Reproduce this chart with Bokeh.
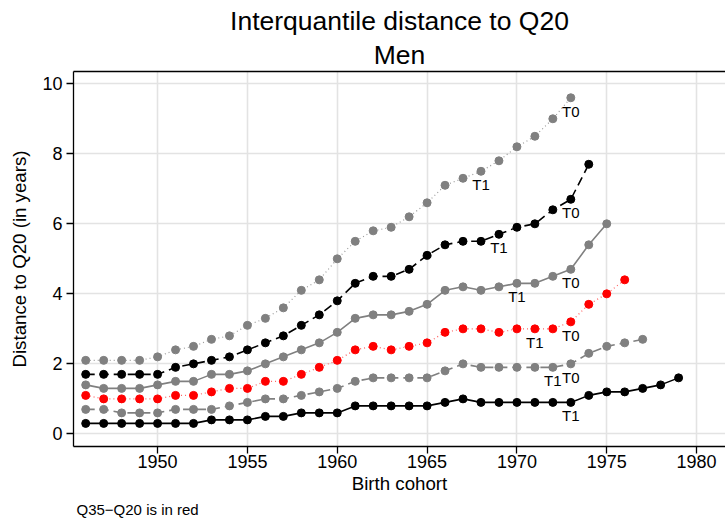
from bokeh.plotting import figure
from bokeh.models import Range1d, LinearAxis, FixedTicker, Title, ColumnDataSource
from bokeh.embed import file_html
from bokeh.resources import INLINE
from bokeh.core.properties import value

# ---------------- data ----------------
years_a = list(range(1946, 1974))
vals_a = [2.1, 2.1, 2.1, 2.1, 2.2, 2.4, 2.5, 2.7, 2.8, 3.1, 3.3, 3.6, 4.1, 4.4,
          5.0, 5.5, 5.8, 5.9, 6.2, 6.6, 7.1, 7.3, 7.5, 7.8, 8.2, 8.5, 9.0, 9.6]

years_b = list(range(1946, 1975))
vals_b = [1.7, 1.7, 1.7, 1.7, 1.7, 1.9, 2.0, 2.1, 2.2, 2.4, 2.6, 2.8, 3.1, 3.4,
          3.8, 4.3, 4.5, 4.5, 4.7, 5.1, 5.4, 5.5, 5.5, 5.7, 5.9, 6.0, 6.4, 6.7, 7.7]

years_c = list(range(1946, 1976))
vals_c = [1.4, 1.3, 1.3, 1.3, 1.4, 1.5, 1.5, 1.7, 1.7, 1.8, 2.0, 2.2, 2.4, 2.6,
          2.9, 3.3, 3.4, 3.4, 3.5, 3.7, 4.1, 4.2, 4.1, 4.2, 4.3, 4.3, 4.5, 4.7, 5.4, 6.0]

years_d = list(range(1946, 1977))  # Q35-Q20 (red)
vals_d = [1.1, 1.0, 1.0, 1.0, 1.0, 1.1, 1.1, 1.2, 1.3, 1.3, 1.5, 1.5, 1.7, 1.9,
          2.1, 2.4, 2.5, 2.4, 2.5, 2.6, 2.9, 3.0, 3.0, 2.9, 3.0, 3.0, 3.0, 3.2, 3.7, 4.0, 4.4]

years_e = list(range(1946, 1978))
vals_e = [0.7, 0.7, 0.6, 0.6, 0.6, 0.7, 0.7, 0.7, 0.8, 0.9, 1.0, 1.0, 1.1, 1.2,
          1.3, 1.5, 1.6, 1.6, 1.6, 1.6, 1.8, 2.0, 1.9, 1.9, 1.9, 1.9, 1.9, 2.0, 2.3, 2.5, 2.6, 2.7]

years_f = list(range(1946, 1980))
vals_f = [0.3, 0.3, 0.3, 0.3, 0.3, 0.3, 0.3, 0.4, 0.4, 0.4, 0.5, 0.5, 0.6, 0.6,
          0.6, 0.8, 0.8, 0.8, 0.8, 0.8, 0.9, 1.0, 0.9, 0.9, 0.9, 0.9, 0.9, 0.9,
          1.1, 1.2, 1.2, 1.3, 1.4, 1.6]

label_series = ["a", "a", "b", "b", "c", "c", "d", "d", "e", "e", "f"]
label_years = [1968, 1973, 1969, 1973, 1970, 1973, 1971, 1973, 1972, 1973, 1973]
label_texts = ["T1", "T0", "T1", "T0", "T1", "T0", "T1", "T0", "T1", "T0", "T1"]

x_ticks = [1950, 1955, 1960, 1965, 1970, 1975, 1980]
y_ticks = [0, 2, 4, 6, 8, 10]

title_text = "Interquantile distance to Q20"
subtitle_text = "Men"
x_label = "Birth cohort"
y_label = "Distance to Q20 (in years)"
note_text = "Q35\u2212Q20 is in red"

# ---------------- styles ----------------
GRAY = "#808080"
RED = "#ff0000"
BLACK = "#000000"
FONT = "Liberation Sans"

series = {
    "a": dict(x=years_a, y=vals_a, color=GRAY, lc="#9a9a9a", dash="1 3", lw=1.2),
    "b": dict(x=years_b, y=vals_b, color=BLACK, lc=BLACK, dash="9 5", lw=1.6),
    "c": dict(x=years_c, y=vals_c, color=GRAY, lc=GRAY, dash="solid", lw=1.6),
    "d": dict(x=years_d, y=vals_d, color=RED, lc="#ff6060", dash="1 3", lw=1.2),
    "e": dict(x=years_e, y=vals_e, color=GRAY, lc=GRAY, dash="9 5", lw=1.6),
    "f": dict(x=years_f, y=vals_f, color=BLACK, lc=BLACK, dash="solid", lw=1.6),
}

p = figure(width=725, height=521, output_backend="svg", toolbar_location=None,
           title=title_text,
           x_range=Range1d(1945.32, 1981.61), y_range=Range1d(-0.36, 10.35),
           min_border_left=73, min_border_right=0, min_border_top=71, min_border_bottom=75)

xax = p.below[0]
yax = p.left[0]

p.title.text_font = FONT
p.title.text_font_size = "26.5px"
p.title.text_font_style = "normal"
p.title.align = "center"
p.title.text_color = "black"
p.title.standoff = 0

p.outline_line_color = None
p.background_fill_color = "white"
p.border_fill_color = "white"

# grids
p.xgrid.ticker = FixedTicker(ticks=x_ticks)
p.ygrid.ticker = FixedTicker(ticks=y_ticks)
for g in (p.xgrid[0], p.ygrid[0]):
    g.grid_line_color = "#e3e3e3"
    g.grid_line_width = 1.6

# axes
for ax in (xax, yax):
    ax.axis_line_color = "black"
    ax.axis_line_width = 1.3
    ax.major_tick_line_color = "black"
    ax.major_tick_line_width = 1.3
    ax.major_tick_in = 0
    ax.major_tick_out = 7
    ax.minor_tick_line_color = None
    ax.major_label_text_font = FONT
    ax.major_label_text_font_size = "18px"
    ax.major_label_text_color = "black"
    ax.axis_label_text_font = FONT
    ax.axis_label_text_font_size = "18.7px"
    ax.axis_label_text_font_style = "normal"
    ax.axis_label_text_color = "black"
xax.ticker = FixedTicker(ticks=x_ticks)
yax.ticker = FixedTicker(ticks=y_ticks)
xax.axis_label = x_label
yax.axis_label = y_label
xax.major_label_standoff = 1
yax.major_label_standoff = 4
xax.axis_label_standoff = 2
yax.axis_label_standoff = 9
yax.major_label_orientation = "horizontal"

# top frame line
top_axis = LinearAxis(ticker=FixedTicker(ticks=[]), major_label_text_font_size="0px",
                      major_tick_out=0, major_tick_in=0, minor_tick_out=0, minor_tick_in=0,
                      major_label_standoff=0, axis_line_color="black", axis_line_width=1.3,
                      axis_label=None)
p.add_layout(top_axis, "above")
p.add_layout(Title(text=subtitle_text, align="center", text_font=FONT, text_font_size="26.5px",
                   text_font_style="normal", text_color="black", standoff=4), "above")

p.add_layout(Title(text=note_text, align="left", text_font=FONT, text_font_size="15px",
                   text_font_style="normal", text_color="black", offset=3, standoff=5), "below")

# series
for key, s in series.items():
    src = ColumnDataSource(dict(x=s["x"], y=s["y"]))
    p.line("x", "y", source=src, line_color=s["lc"], line_width=s["lw"], line_dash=s["dash"])
    p.scatter("x", "y", source=src, size=8, fill_color=s["color"], line_color=s["color"])

# labels positioned on the series' own values
lx, ly = [], []
for k, yr in zip(label_series, label_years):
    s = series[k]
    lx.append(yr)
    ly.append(s["y"][s["x"].index(yr)])
p.text(x=lx, y=ly, text=label_texts, text_align="center", text_baseline="middle",
       y_offset=13.5, text_font=value(FONT), text_font_size="15px", text_color="black")

open("out.html", "w").write(file_html(p, INLINE))
